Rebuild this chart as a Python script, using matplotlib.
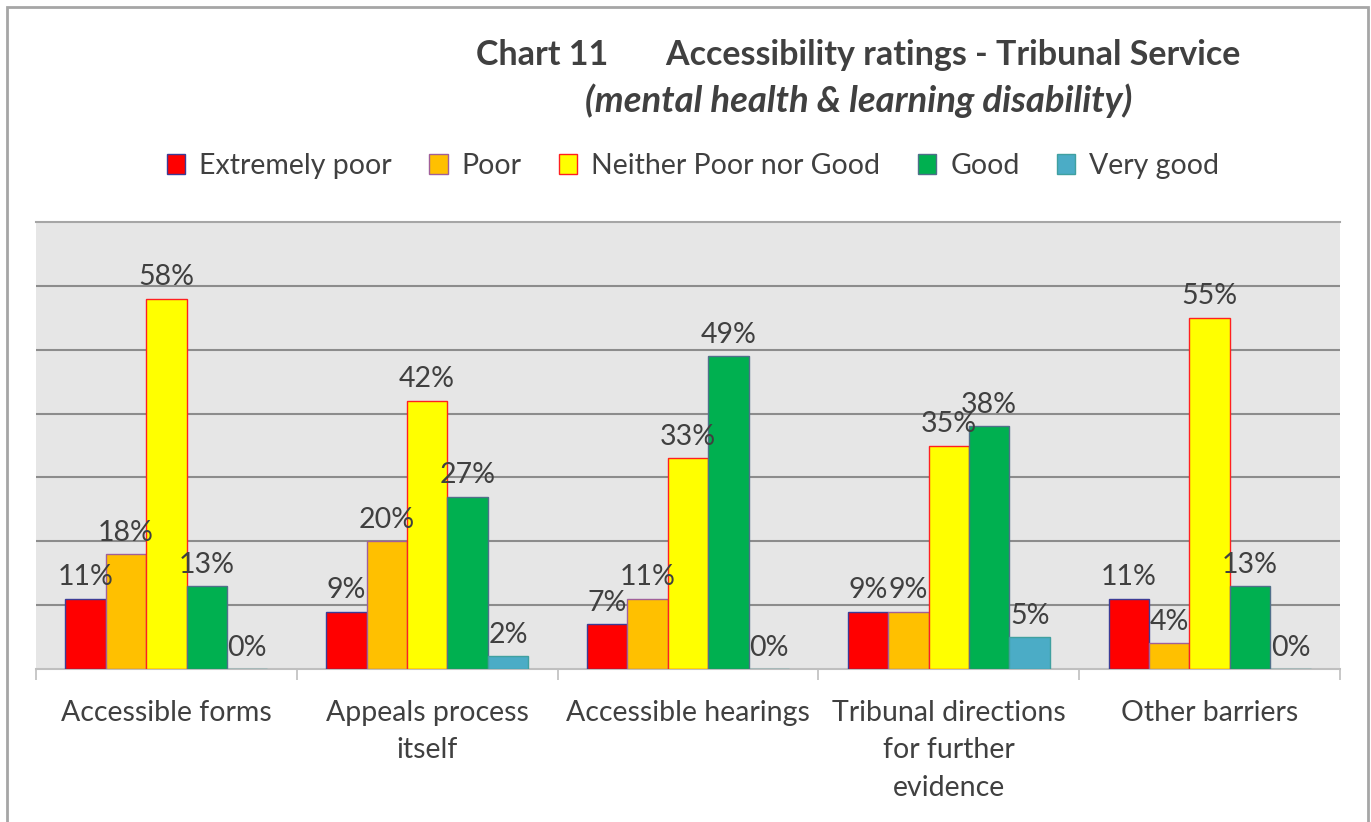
import matplotlib.pyplot as plt
from matplotlib.patches import Rectangle
import numpy as np

# données du graphique
categories = ["Accessible forms", "Appeals process\nitself", "Accessible hearings",
              "Tribunal directions\nfor further\nevidence", "Other barriers"]
series = ["Extremely poor", "Poor", "Neither Poor nor Good", "Good", "Very good"]
extremely_poor = [11, 9, 7, 9, 11]
poor = [18, 20, 11, 9, 4]
neither = [58, 42, 33, 35, 55]
good = [13, 27, 49, 38, 13]
very_good = [0, 2, 0, 5, 0]

values = [extremely_poor, poor, neither, good, very_good]
colors = ["#FF0000", "#FFC000", "#FFFF00", "#00B050", "#4BACC6"]
edges = ["#3C3C96", "#A0609A", "#FF2020", "#50708A", "#40A0A0"]

plt.rcParams['font.family'] = ['Lato', 'DejaVu Sans']
txt_col = "#404040"
fs = 20.5

fig = plt.figure(figsize=(13.71, 8.22), dpi=100)
ax = fig.add_axes([36/1371, 1-669/822, 1304/1371, 447/822])
ax.set_facecolor("#E6E6E6")

x = np.arange(len(categories))
w = 0.155
for i, (vals, c, ec, name) in enumerate(zip(values, colors, edges, series)):
    pos = x + (i - 2) * w
    ax.bar(pos, vals, width=w, color=c, edgecolor=ec, linewidth=1, label=name, zorder=3)
    for xp, v in zip(pos, vals):
        ax.annotate(f"{v}%", (xp, v), xytext=(0, 6), textcoords="offset points",
                    ha="center", va="bottom", fontsize=fs, color=txt_col, zorder=4)

ax.set_xlim(-0.5, 4.5)
ax.set_ylim(0, 70)
ax.set_yticks(np.arange(10, 70, 10))
ax.tick_params(axis='y', length=0, labelleft=False)
ax.yaxis.grid(True, color="#8C8C8C", linewidth=1.5, zorder=1)
ax.set_axisbelow(True)

# graduations entre les catégories, étiquettes au centre
ax.set_xticks(np.arange(-0.5, 5, 1))
ax.set_xticklabels([])
ax.set_xticks(x, minor=True)
ax.set_xticklabels(categories, minor=True, fontsize=fs, color=txt_col, linespacing=1.55)
ax.tick_params(axis='x', which='major', length=8, color="#BFBFBF", width=1.2, direction='out')
ax.tick_params(axis='x', which='minor', length=0, pad=22)

for s in ["left", "right"]:
    ax.spines[s].set_visible(False)
ax.spines["top"].set_color("#A6A6A6")
ax.spines["top"].set_linewidth(1.5)
ax.spines["bottom"].set_color("#BFBFBF")
ax.spines["bottom"].set_linewidth(1.5)

# titre
fig.text(858/1371, 1-55/822, "Chart 11       Accessibility ratings - Tribunal Service",
         ha="center", va="center", fontsize=24.5, fontweight="bold", color=txt_col)
fig.text(859/1371, 1-101/822, "(mental health & learning disability)",
         ha="center", va="center", fontsize=26.3, fontweight="bold", style="italic", color=txt_col)

leg = fig.legend(loc="center", bbox_to_anchor=(693/1371, 1-166/822), ncol=5, frameon=False,
                 fontsize=fs, handlelength=0.65, handleheight=0.65, handletextpad=0.5,
                 columnspacing=1.3)
for t in leg.get_texts():
    t.set_color(txt_col)

# cadre extérieur
fig.patches.append(Rectangle((7/1371, -0.05), 1361/1371, 1.05 - 7/822, transform=fig.transFigure,
                             fill=False, edgecolor="#A6A6A6", linewidth=2))

fig.savefig("out.png", dpi=100)
